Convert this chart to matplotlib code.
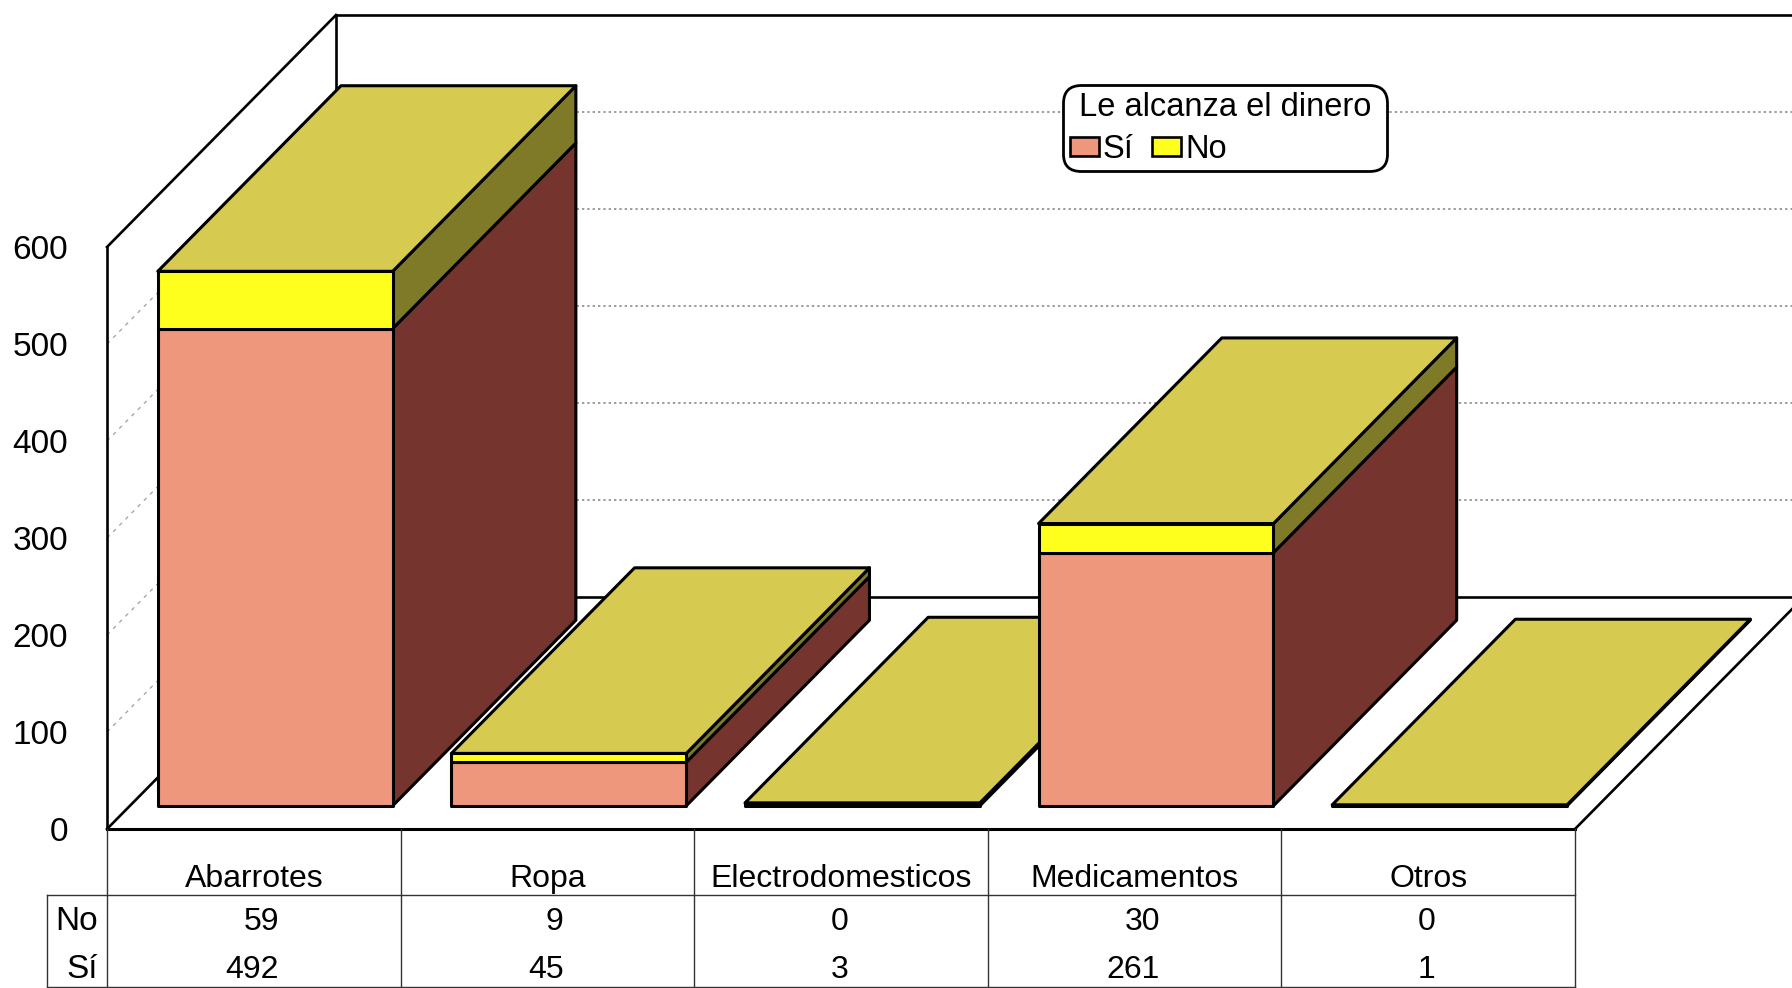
import matplotlib.pyplot as plt
from matplotlib.patches import Polygon, Patch

plt.rcParams['font.family'] = ['Liberation Sans', 'DejaVu Sans']

categories = ['Abarrotes', 'Ropa', 'Electrodomesticos', 'Medicamentos', 'Otros']
si = [492, 45, 3, 261, 1]
no = [59, 9, 0, 30, 0]
yticks = [0, 100, 200, 300, 400, 500, 600]
legend_title = 'Le alcanza el dinero'

# colours of the bar faces
si_front, si_side = '#EE977C', '#76342F'
no_front, no_side = '#FFFF1E', '#7F7A28'
top_col = '#D6CB50'

W, H = 1792, 988
left, right, bottom, top = 107, 1575, 829, 247   # front plane in pixels
ux = 5 / (right - left)     # one pixel in categories
uy = 600 / (bottom - top)   # one pixel in value units
depth_x = 229 * ux
depth_y = 232 * uy

fig = plt.figure(figsize=(W / 100, H / 100), dpi=100)
ax = fig.add_axes([left / W, 1 - bottom / H, (right - left) / W, (bottom - top) / H])
ax.set_xlim(0, 5)
ax.set_ylim(0, 600)
for s in ax.spines.values():
    s.set_visible(False)
ax.set_xticks([])
ax.set_yticks(yticks)
ax.tick_params(axis='y', length=0, pad=28, labelsize=24)
ax.patch.set_alpha(0)


def proj(x, v, d):
    return (x + d * depth_x, v + d * depth_y)


def line(p, q, z=1, **kw):
    kw.setdefault('color', 'black')
    kw.setdefault('lw', 1.9)
    ax.plot([p[0], q[0]], [p[1], q[1]], clip_on=False, zorder=z, **kw)


# grid on the walls
for v in yticks[1:-1]:
    line(proj(0, v, 1), proj(5, v, 1), color='#808080', lw=1.1, ls=(0, (1.5, 2)))
    line(proj(0, v, 0), proj(0, v, 1), color='#A0A0A0', lw=0.9, ls=(0, (3, 4)))

# walls and floor
line((0, 0), (0, 600))
line(proj(0, 600, 0), proj(0, 600, 1))
line(proj(0, 0, 1), proj(0, 600, 1))
line(proj(0, 600, 1), proj(5, 600, 1))
line((0, 0), (5, 0), lw=2.2)
line((0, 0), proj(0, 0, 1))
line(proj(0, 0, 1), proj(5, 0, 1))
line((5, 0), proj(5, 0, 1))


def face(points, col, z):
    ax.add_patch(Polygon(points, closed=True, facecolor=col, edgecolor='black',
                         lw=2.2, joinstyle='round', clip_on=False, zorder=z))


d0, d1 = 0.1, 0.9
for i in range(len(categories)):
    x0, x1 = i + 0.095, i + 0.895
    z = 3 + i
    v1 = si[i]
    v2 = si[i] + no[i]
    # side faces, then top, then front
    face([proj(x1, 0, d0), proj(x1, 0, d1), proj(x1, v1, d1), proj(x1, v1, d0)], si_side, z)
    face([proj(x1, v1, d0), proj(x1, v1, d1), proj(x1, v2, d1), proj(x1, v2, d0)], no_side, z)
    face([proj(x0, v2, d0), proj(x0, v2, d1), proj(x1, v2, d1), proj(x1, v2, d0)], top_col, z)
    face([proj(x0, 0, d0), proj(x1, 0, d0), proj(x1, v1, d0), proj(x0, v1, d0)], si_front, z)
    face([proj(x0, v1, d0), proj(x1, v1, d0), proj(x1, v2, d0), proj(x0, v2, d0)], no_front, z)

# data table under the floor
tcol = '#333333'
table_bottom = -(987 - bottom) * uy
header_line = -(895 - bottom) * uy
table_left = -(left - 47) * ux
for i in range(len(categories) + 1):
    line((i, 0), (i, -(H + 20 - bottom) * uy), color=tcol, lw=1.0)
line((table_left, header_line), (5, header_line), color=tcol, lw=1.0)
line((table_left, table_bottom), (5, table_bottom), color=tcol, lw=1.0)
line((table_left, header_line), (table_left, table_bottom), color=tcol, lw=1.0)

digit_w = 17.8 * ux
y_head = -(879 - bottom) * uy
y_no = -(922 - bottom) * uy
y_si = -(970 - bottom) * uy
ax.text(-9 * ux, y_no, 'No', ha='right', va='center', fontsize=24, clip_on=False)
ax.text(-9 * ux, y_si, 'Sí', ha='right', va='center', fontsize=24, clip_on=False)
for i, c in enumerate(categories):
    ax.text(i + 0.5, y_head, c, ha='center', va='center', fontsize=23)
    n = max(len(str(no[i])), len(str(si[i])))
    rx = i + 0.495 + n * digit_w / 2
    ax.text(rx, y_no, str(no[i]), ha='right', va='center', fontsize=23)
    ax.text(rx, y_si, str(si[i]), ha='right', va='center', fontsize=23)

# legend
handles = [Patch(facecolor=si_front, edgecolor='black', lw=1.9, label='Sí'),
           Patch(facecolor=no_front, edgecolor='black', lw=1.9, label='No')]
leg = fig.legend(handles=handles, title=' ' + legend_title + ' ', ncol=2, fontsize=23.5,
                 title_fontsize=23.5, loc='upper left', bbox_to_anchor=(1063 / W, 1 - 85 / H),
                 bbox_transform=fig.transFigure, frameon=True, fancybox=True, framealpha=1,
                 edgecolor='black', handlelength=0.9, handleheight=0.55, handletextpad=0.12,
                 columnspacing=0.55, borderpad=0.2, borderaxespad=0, labelspacing=0.35,
                 alignment='left')
leg.get_frame().set_linewidth(2)
leg.get_frame().set_boxstyle('round', pad=0, rounding_size=0.55)
leg.set_zorder(20)

fig.savefig('out.png', dpi=100)
